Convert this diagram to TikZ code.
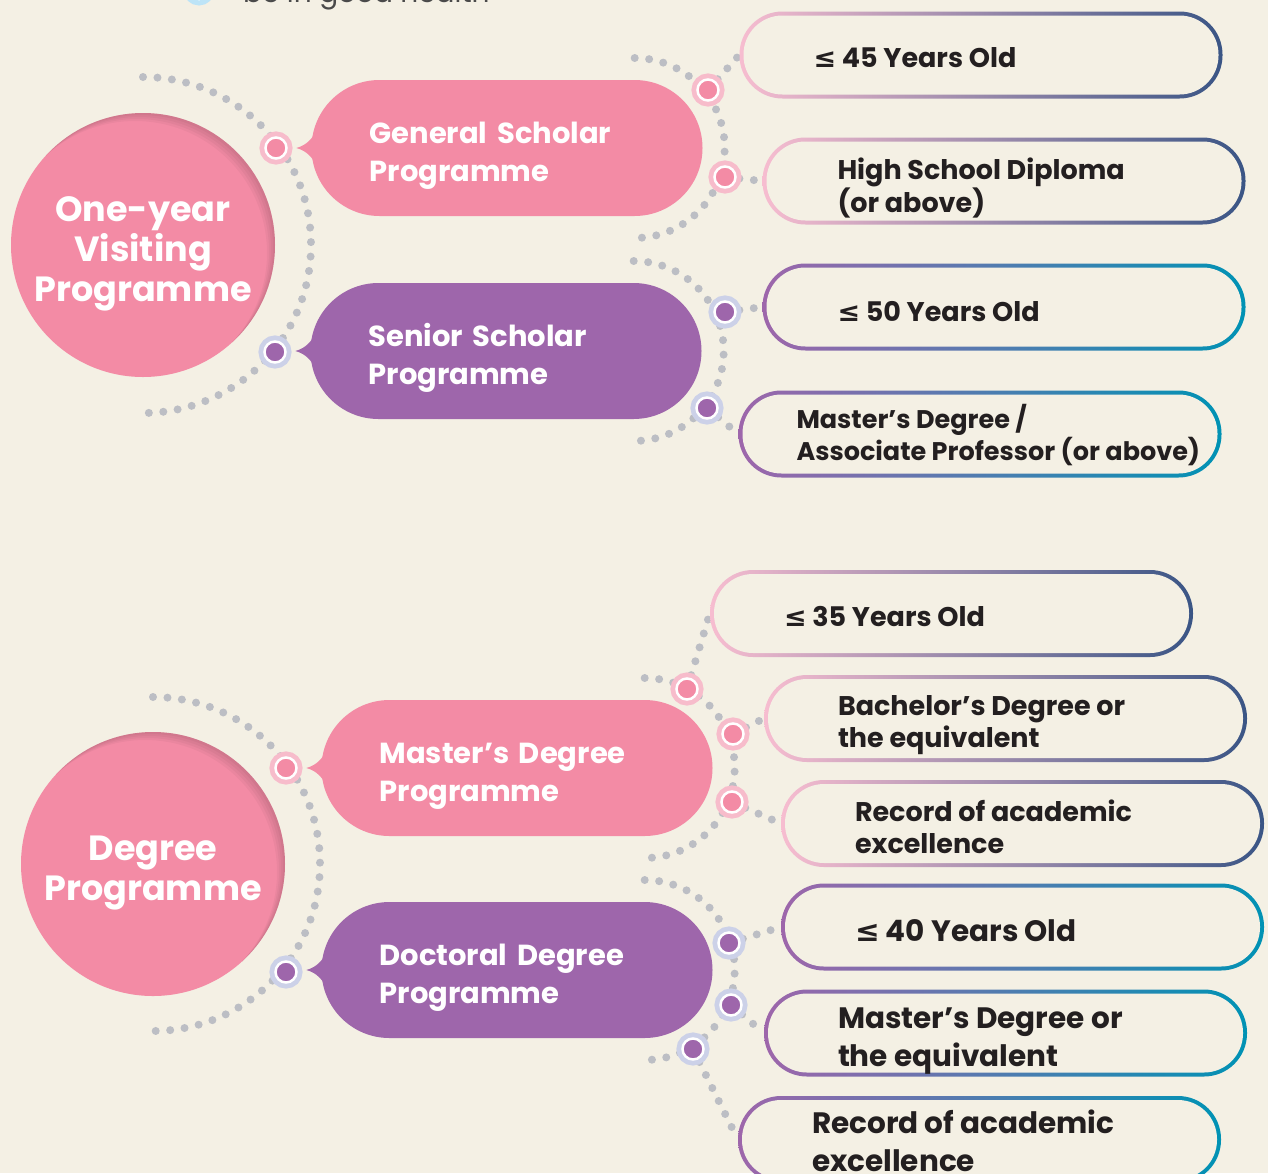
\documentclass[tikz,border=0pt]{standalone}
\usepackage{fontspec}
\setmainfont{Poppins}
\newfontfamily\symfont{DejaVu Sans}
\usetikzlibrary{positioning}

\definecolor{bgc}{HTML}{F4F0E4}
\definecolor{pinkc}{HTML}{F38BA5}
\definecolor{pinklt}{HTML}{F7BCCB}
\definecolor{purplec}{HTML}{9E66AB}
\definecolor{lavlt}{HTML}{CCD1E8}
\definecolor{dotc}{HTML}{BCBEC4}
\definecolor{navyc}{HTML}{3A5585}
\definecolor{pinkedge}{HTML}{F7BDD0}
\definecolor{tealc}{HTML}{0092B4}
\definecolor{inkc}{HTML}{231F20}
\definecolor{skyc}{HTML}{BDE4F7}
\definecolor{greyc}{HTML}{4A4A4A}

\pgfdeclarelayer{paper}
\pgfdeclarelayer{links}
\pgfsetlayers{paper,links,main}

\begin{document}
\begin{tikzpicture}[x=1pt, y=1pt,
    prog/.style={circle, fill=pinkc, minimum size=264pt, inner sep=0pt,
      text=white, text width=220pt, align=center,
      font=\bfseries\fontsize{35}{40}\selectfont,
      execute at begin node={\rule{0pt}{42pt}},
      path picture={\foreach \s in {2,4,6,8}
        \fill[black, opacity=0.035, even odd rule]
          (path picture bounding box.center) circle (150)
          ([shift={(-\s,-\s)}]path picture bounding box.center) circle (132);}},
    bubble/.style={rectangle, rounded corners=68pt, minimum width=391pt,
      minimum height=136pt, fill=#1, text=white, text width=275pt, align=left,
      font=\bfseries\fontsize{29}{38}\selectfont,
      execute at begin node={\rule{0pt}{37pt}}},
    ring/.style={circle, inner sep=0pt, minimum size=21pt, fill=#1,
      draw=white, line width=2.5pt},
    pinkring/.style={ring=pinkc, preaction={draw=pinklt, line width=12pt}},
    lavring/.style={ring=purplec, preaction={draw=lavlt, line width=12pt}},
    req/.style 2 args={rectangle, rounded corners=43pt, minimum width=483pt,
      minimum height=87pt, inner sep=0pt, left color=#1, right color=#2,
      path picture={\fill[bgc, rounded corners=39pt]
        ([shift={(4,4)}]path picture bounding box.south west) rectangle
        ([shift={(-4,-4)}]path picture bounding box.north east);}},
    navyreq/.style={req={pinkedge}{navyc}},
    tealreq/.style={req={purplec}{tealc}},
    reqtext/.style={text=inkc, align=left, inner sep=0pt,
      font=\bfseries\fontsize{27}{32}\selectfont},
    bigtext/.style={reqtext, font=\bfseries\fontsize{29.5}{38}\selectfont},
    dots/.style={dotc, line width=8pt, line cap=round,
      dash pattern=on 0pt off 14.5pt}
  ]
  \begin{pgfonlayer}{paper}
    \fill[bgc] (0,0) rectangle (1268,-1173);
  \end{pgfonlayer}
  \useasboundingbox (0,0) rectangle (1268,-1173);

  % Cut-off line above.
  \node[circle, fill=white, draw=skyc, line width=5pt, minimum size=26pt,
    inner sep=0pt] (hb) at (199,10) {};
  \node[anchor=base west, inner sep=0pt, text=greyc,
    font=\fontsize{28}{30}\selectfont] (ht) at (243,-2) {be in good health};

  % One-year visiting programme.
  \node[prog] (oyv) at (143,-245) {One-year\\Visiting\\Programme};
  \node[bubble=pinkc] (gs) at (507,-148) {General Scholar\\Programme};
  \node[bubble=purplec] (ss) at (506,-351) {Senior Scholar\\Programme};
  \node[pinkring] (r1) at (276,-148) {};
  \node[lavring] (r2) at (275,-352) {};
  \node[pinkring] (r3) at (708,-90) {};
  \node[pinkring] (r4) at (725,-177) {};
  \node[lavring] (r5) at (725,-312) {};
  \node[lavring] (r6) at (707,-408) {};

  \node[navyreq] (p1) at (981,-55) {};
  \node[navyreq] (p2) at (1004,-181) {};
  \node[tealreq] (p3) at (1004,-307) {};
  \node[tealreq] (p4) at (980,-434) {};
  \node[reqtext, right=74pt of p1.west, yshift=-3pt] (t1) {{\symfont ≤} 45 Years Old};
  \node[reqtext, right=75pt of p2.west, yshift=-7pt] (t2) {High School Diploma\\(or above)};
  \node[reqtext, right=75pt of p3.west, yshift=-5pt] (t3) {{\symfont ≤} 50 Years Old};
  \node[reqtext, right=58pt of p4.west, yshift=-1pt,
    font=\bfseries\fontsize{25.5}{32}\selectfont] (t4) {Master’s Degree /\\Associate Professor (or above)};

  % Degree programme.
  \node[prog] (dp) at (153,-864) {Degree\\Programme};
  \node[bubble=pinkc] (md) at (517,-768) {Master’s Degree\\Programme};
  \node[bubble=purplec] (dd) at (517,-970) {Doctoral Degree\\Programme};
  \node[pinkring] (r7) at (286,-768) {};
  \node[lavring] (r8) at (286,-972) {};
  \node[pinkring] (r9) at (687,-689) {};
  \node[pinkring] (r10) at (733,-734) {};
  \node[pinkring] (r11) at (732,-802) {};
  \node[lavring] (r12) at (729,-943) {};
  \node[lavring] (r13) at (731,-1005) {};
  \node[lavring] (r14) at (693,-1049) {};

  \node[navyreq] (p5) at (951.5,-613.5) {};
  \node[navyreq] (p6) at (1005.5,-718.5) {};
  \node[navyreq] (p7) at (1022.5,-823.5) {};
  \node[tealreq] (p8) at (1022.5,-927) {};
  \node[tealreq] (p9) at (1005.5,-1033) {};
  \node[tealreq] (p10) at (979.5,-1139.5) {};
  \node[reqtext, right=74pt of p5.west, yshift=-3pt] (t5) {{\symfont ≤} 35 Years Old};
  \node[reqtext, right=74pt of p6.west, yshift=-7pt] (t6) {Bachelor’s Degree or\\the equivalent};
  \node[reqtext, right=74pt of p7.west, yshift=-3pt] (t7) {Record of academic\\excellence};
  \node[bigtext, right=74pt of p8.west, yshift=-4pt] (t8) {{\symfont ≤} 40 Years Old};
  \node[bigtext, right=74pt of p9.west, yshift=-8pt] (t9) {Master’s Degree or\\the equivalent};
  \node[bigtext, right=74pt of p10.west, yshift=-1pt] (t10) {Record of academic\\excellence};

  % Bubble pointers.
  \foreach \b/\c in {gs/pinkc, ss/purplec, md/pinkc, dd/purplec}
    \fill[\c] (\b.west) ++(-15,0) to[out=15,in=-120] ++(22,20) -- ++(25,0)
      -- ++(0,-40) -- ++(-25,0) to[out=120,in=-15] cycle;

  % Dotted links.
  \begin{pgfonlayer}{links}
    \draw[dots] (oyv.center) ++(90:168) arc[start angle=90, end angle=-90, radius=168];
    \draw[dots] (dp.center) ++(90:167) arc[start angle=90, end angle=-90, radius=167];
    \foreach \b in {gs,ss,md,dd}
      \draw[dots] ([xshift=-68pt]\b.east) ++(90:90) arc[start angle=90, end angle=-90, radius=90];
    \foreach \r/\p in {r3/p1, r4/p2, r5/p3, r6/p4, r9/p5, r10/p6, r11/p7, r12/p8, r13/p9, r14/p10}
      \draw[dots] (\r.center) -- (\p.west);
  \end{pgfonlayer}
\end{tikzpicture}
\end{document}
